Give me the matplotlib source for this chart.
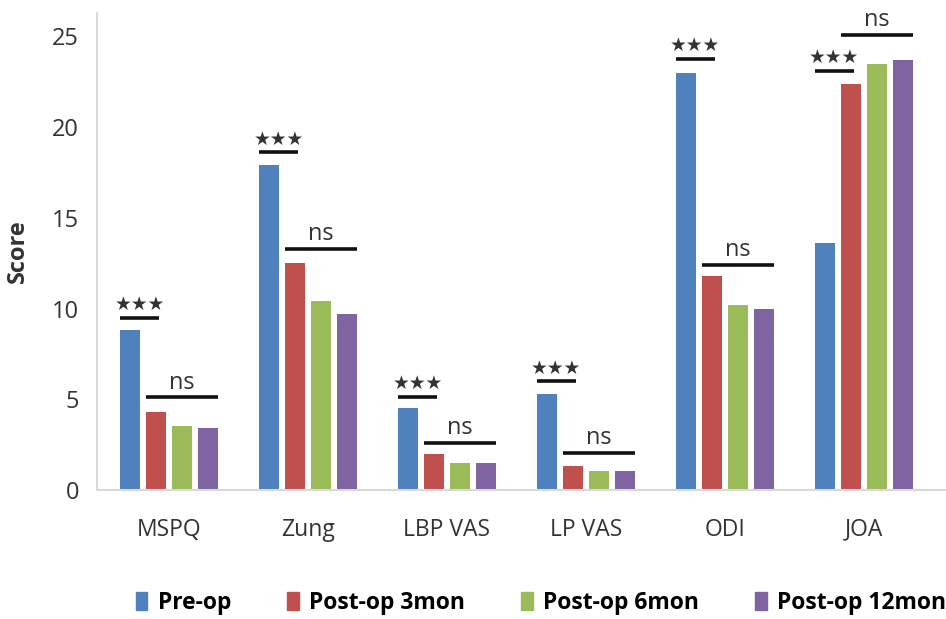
import matplotlib.pyplot as plt
import numpy as np
from matplotlib.patches import Patch

# data
categories = ['MSPQ', 'Zung', 'LBP VAS', 'LP VAS', 'ODI', 'JOA']
series_names = ['Pre-op', 'Post-op 3mon', 'Post-op 6mon', 'Post-op 12mon']
pre_op = [8.8, 17.9, 4.5, 5.3, 23.0, 13.6]
post_3mon = [4.3, 12.5, 2.0, 1.3, 11.8, 22.4]
post_6mon = [3.5, 10.4, 1.5, 1.05, 10.2, 23.5]
post_12mon = [3.4, 9.7, 1.5, 1.05, 10.0, 23.7]

# significance bars: height of the *** line and the ns line per category
star_y = [9.5, 18.6, 5.15, 6.0, 23.75, 23.1]
ns_y = [5.1, 13.3, 2.6, 2.05, 12.4, 25.1]

colors = ['#4F81BD', '#C0504D', '#9BBB59', '#8064A2']
font = 'Open Sans'

fig = plt.figure(figsize=(9.46, 6.19), dpi=100)
ax = fig.add_axes([0.1025, 0.2084, 0.897, 0.771])

x = np.arange(len(categories))
pitch = 0.187
width = 0.144
all_series = [pre_op, post_3mon, post_6mon, post_12mon]
for i, vals in enumerate(all_series):
    ax.bar(x + (i - 1.5) * pitch, vals, width, color=colors[i])

for xi, sy, ny in zip(x, star_y, ns_y):
    x0 = xi - 1.5 * pitch - width / 2
    ax.plot([x0, x0 + 0.28], [sy, sy], color='#111111', lw=2.6, solid_capstyle='butt')
    ax.text(x0 + 0.14, sy + 0.2, '★★★', ha='center', va='bottom', fontsize=13.5,
            family='DejaVu Sans', color='#333333')
    x1 = xi - 0.5 * pitch - width / 2
    x2 = xi + 1.5 * pitch + width / 2
    ax.plot([x1, x2], [ny, ny], color='#111111', lw=2.6, solid_capstyle='butt')
    ax.text((x1 + x2) / 2, ny + 0.15, 'ns', ha='center', va='bottom', fontsize=17,
            family=font, color='#333333')

ax.set_xlim(-0.52, 5.59)
ax.set_ylim(0, 26.3)
ax.set_yticks([0, 5, 10, 15, 20, 25])
ax.set_xticks(x)
ax.set_xticklabels(categories, family=font, fontsize=16.5)
for lab in ax.get_yticklabels():
    lab.set_family(font)
    lab.set_fontsize(17)
ax.tick_params(length=0, pad=13, colors='#333333')
ax.tick_params(axis='x', pad=20)
for side in ['top', 'right']:
    ax.spines[side].set_visible(False)
for side in ['left', 'bottom']:
    ax.spines[side].set_color('#d9d9d9')
    ax.spines[side].set_linewidth(1.5)
ax.set_ylabel('Score', family=font, fontsize=17, fontweight='bold', color='#333333', labelpad=16)

handles = [Patch(color=c) for c in colors]
fig.legend(handles, series_names, loc='center', bbox_to_anchor=(541 / 946, 1 - 603 / 619),
           ncol=4, frameon=False, handlelength=0.5, handleheight=0.85, handletextpad=0.45,
           columnspacing=2.45, prop={'family': font, 'size': 16.5, 'weight': 'bold'})

fig.savefig('out.png', dpi=100)
